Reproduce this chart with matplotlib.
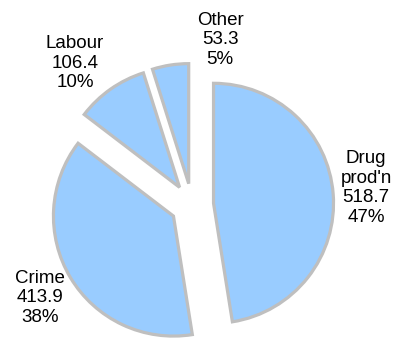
import numpy as np
import matplotlib.pyplot as plt

plt.rcParams['font.family'] = ['Liberation Sans', 'DejaVu Sans']

# cost components
categories = ["Drug\nprod'n", "Crime", "Labour", "Other"]
values = [518.7, 413.9, 106.4, 53.3]

# label anchor points in figure pixels (x, y from top)
label_pos = [(366, 188), (40, 298), (75, 63), (220, 40)]

W, H = 394, 338
fig = plt.figure(figsize=(W / 100, H / 100), dpi=100)
ax = fig.add_axes([0, 0, 1, 1])

ax.pie(values, startangle=90, counterclock=False,
       explode=[0.18] * len(values), radius=1,
       colors=['#99CCFF'] * len(values),
       wedgeprops=dict(edgecolor='#BFBFBF', linewidth=2.3))

# pie centre and radius in pixels (pie() resets limits, so set after)
cx, cy, r = 192, 205, 120
ax.set_xlim((0 - cx) / r, (W - cx) / r)
ax.set_ylim((cy - H) / r, cy / r)
ax.set_aspect('equal')
ax.axis('off')

total = sum(values)
for name, v, (px, py) in zip(categories, values, label_pos):
    pct = round(v / total * 100)
    fig.text(px / W, 1 - py / H, f"{name}\n{v}\n{pct}%",
             ha='center', va='center', fontsize=13.5,
             linespacing=1.2, color='black')

fig.savefig('out.png', dpi=100)
